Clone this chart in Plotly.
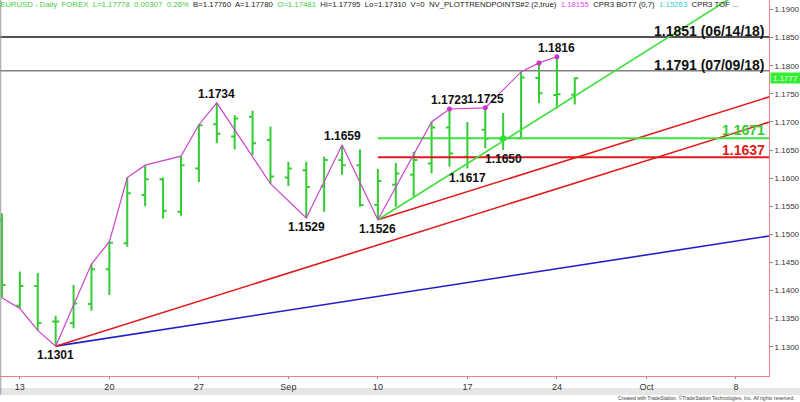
import plotly.graph_objects as go
import pandas as pd

# ---------------- data ----------------
dates = ["2018-08-10", "2018-08-13", "2018-08-14", "2018-08-15", "2018-08-16", "2018-08-17",
         "2018-08-20", "2018-08-21", "2018-08-22", "2018-08-23", "2018-08-24",
         "2018-08-27", "2018-08-28", "2018-08-29", "2018-08-30", "2018-08-31",
         "2018-09-03", "2018-09-04", "2018-09-05", "2018-09-06", "2018-09-07",
         "2018-09-10", "2018-09-11", "2018-09-12", "2018-09-13", "2018-09-14",
         "2018-09-17", "2018-09-18", "2018-09-19", "2018-09-20", "2018-09-21",
         "2018-09-24", "2018-09-25"]
opens = [1.1525, 1.1373, 1.1408, 1.1345, 1.1342, 1.1376,
         1.1438, 1.1484, 1.1570, 1.1598, 1.1540,
         1.1617, 1.1696, 1.1674, 1.1709, 1.1668,
         1.1601, 1.1614, 1.1585, 1.1632, 1.1623,
         1.1552, 1.1588, 1.1606, 1.1626, 1.1690,
         1.1638, 1.1686, 1.1668, 1.1671, 1.1778,
         1.1748, 1.17481]
highs = [1.1537, 1.1434, 1.1431, 1.1355, 1.1410, 1.1447,
         1.1487, 1.1601, 1.1623, 1.1601, 1.1639,
         1.1695, 1.1734, 1.1712, 1.1720, 1.1692,
         1.1629, 1.1629, 1.1638, 1.1659, 1.1651,
         1.1616, 1.1627, 1.1647, 1.1700, 1.1723,
         1.1700, 1.1725, 1.1716, 1.1789, 1.1805,
         1.1816, 1.17795]
lows = [1.1387, 1.1368, 1.1329, 1.1301, 1.1333, 1.1364,
        1.1392, 1.1478, 1.1550, 1.1528, 1.1533,
        1.1593, 1.1662, 1.1651, 1.1641, 1.1590,
        1.1586, 1.1529, 1.1540, 1.1606, 1.1549,
        1.1526, 1.1549, 1.1567, 1.1608, 1.1620,
        1.1617, 1.1653, 1.1650, 1.1669, 1.1733,
        1.1724, 1.17310]
closes = [1.1410, 1.1408, 1.1342, 1.1345, 1.1377, 1.1438,
          1.1485, 1.1573, 1.1598, 1.1542, 1.1623,
          1.1694, 1.1679, 1.1706, 1.1662, 1.1603,
          1.1617, 1.1584, 1.1632, 1.1623, 1.1552,
          1.1595, 1.1608, 1.1632, 1.1690, 1.1644,
          1.1671, 1.1670, 1.1672, 1.1779, 1.1751,
          1.1749, 1.17778]

# swing line (NV_PLOTTRENDPOINTS)
swing_dates = ["2018-08-10", "2018-08-13", "2018-08-14", "2018-08-15", "2018-08-17",
               "2018-08-20", "2018-08-21", "2018-08-22", "2018-08-24", "2018-08-27",
               "2018-08-28", "2018-08-31", "2018-09-04", "2018-09-06", "2018-09-10",
               "2018-09-13", "2018-09-14", "2018-09-18", "2018-09-20", "2018-09-21",
               "2018-09-24"]
swing_prices = [1.1387, 1.1368, 1.1329, 1.1301, 1.1447,
                1.1487, 1.1601, 1.1623, 1.1639, 1.1695,
                1.1734, 1.1590, 1.1529, 1.1659, 1.1526,
                1.1700, 1.1723, 1.1725, 1.1789, 1.1805,
                1.1816]
dot_dates = ["2018-09-14", "2018-09-18", "2018-09-21", "2018-09-24"]
dot_prices = [1.1723, 1.1725, 1.1805, 1.1816]

# pivot labels: date, price, side
pivot_dates = ["2018-08-15", "2018-08-28", "2018-09-04", "2018-09-06", "2018-09-10",
               "2018-09-14", "2018-09-18", "2018-09-17", "2018-09-19", "2018-09-24"]
pivot_prices = [1.1301, 1.1734, 1.1529, 1.1659, 1.1526,
                1.1723, 1.1725, 1.1617, 1.1650, 1.1816]
pivot_side = ["low", "high", "low", "high", "low", "high", "high", "low", "low", "high"]

# trend lines: start date/price -> end date/price
red_low_line = (["2018-08-15", "2018-10-12"], [1.1301, 1.1721])
red_up_line = (["2018-09-10", "2018-10-12"], [1.1526, 1.1766])
blue_line = (["2018-08-15", "2018-10-12"], [1.1301, 1.15076])
green_line = (["2018-09-10", "2018-10-12"], [1.1526, 1.2006])
green_level = (["2018-09-10", "2018-10-12"], [1.1671, 1.1671])
red_level = (["2018-09-10", "2018-10-12"], [1.1637, 1.1637])
green_dot = (["2018-09-19"], [1.1671])

# horizontal reference levels
level_prices = [1.1851, 1.1791]
level_labels = ["1.1851 (06/14/18)", "1.1791 (07/09/18)"]
level_colors = ["#1a1a1a", "#808080"]

# axis ticks
x_tick_dates = ["2018-08-13", "2018-08-20", "2018-08-27", "2018-09-03", "2018-09-10",
                "2018-09-17", "2018-09-24", "2018-10-01", "2018-10-08"]
x_tick_text = ["13", "20", "27", "Sep", "10", "17", "24", "Oct", "8"]
y_ticks = [1.1300, 1.1350, 1.1400, 1.1450, 1.1500, 1.1550, 1.1600,
           1.1650, 1.1700, 1.1750, 1.1800, 1.1850, 1.1900]
last_price = 1.17778
last_price_label = "1.1777"


def noon(ds):
    return [pd.Timestamp(d) + pd.Timedelta(hours=12) for d in ds]


GREEN = "#33cc33"
FONT = "Arial, Liberation Sans, sans-serif"

fig = go.Figure()

fig.add_trace(go.Scatter(x=noon(blue_line[0]), y=blue_line[1], mode="lines",
                         line=dict(color="#1f1fc8", width=1.6), hoverinfo="skip"))
fig.add_trace(go.Scatter(x=noon(red_low_line[0]), y=red_low_line[1], mode="lines",
                         line=dict(color="#e01b1b", width=1.6), hoverinfo="skip"))
fig.add_trace(go.Scatter(x=noon(red_up_line[0]), y=red_up_line[1], mode="lines",
                         line=dict(color="#e01b1b", width=1.6), hoverinfo="skip"))
fig.add_trace(go.Scatter(x=noon(red_level[0]), y=red_level[1], mode="lines",
                         line=dict(color="#e01b1b", width=2), hoverinfo="skip"))
fig.add_trace(go.Scatter(x=noon(green_level[0]), y=green_level[1], mode="lines",
                         line=dict(color="#3fe03f", width=2), hoverinfo="skip"))
fig.add_trace(go.Scatter(x=noon(green_line[0]), y=green_line[1], mode="lines",
                         line=dict(color="#3fe03f", width=1.6), hoverinfo="skip"))

fig.add_trace(go.Ohlc(x=noon(dates), open=opens, high=highs, low=lows, close=closes,
                      increasing=dict(line=dict(color=GREEN, width=2)),
                      decreasing=dict(line=dict(color=GREEN, width=2)),
                      tickwidth=0.2, hoverinfo="skip"))

fig.add_trace(go.Scatter(x=noon(swing_dates), y=swing_prices, mode="lines",
                         line=dict(color="#cc44cc", width=1.2), hoverinfo="skip"))
fig.add_trace(go.Scatter(x=noon(dot_dates), y=dot_prices, mode="markers",
                         marker=dict(color="#cc33cc", size=5), hoverinfo="skip"))
fig.add_trace(go.Scatter(x=noon(green_dot[0]), y=green_dot[1], mode="markers",
                         marker=dict(color="#33dd33", size=6), hoverinfo="skip"))

annotations = []
for d, p, s in zip(pivot_dates, pivot_prices, pivot_side):
    annotations.append(dict(x=noon([d])[0], y=p, text="<b>%.4f</b>" % p, showarrow=False,
                            xanchor="center", yanchor="top" if s == "low" else "bottom",
                            yshift=0,
                            font=dict(family=FONT, size=12, color="#111111")))

for p, t in zip(level_prices, level_labels):
    annotations.append(dict(x=0.997, xref="paper", y=p, text="<b>%s</b>" % t, showarrow=False,
                            xanchor="right", yanchor="bottom", yshift=-4,
                            font=dict(family=FONT, size=14, color="#111111")))
annotations.append(dict(x=0.997, xref="paper", y=green_level[1][0], text="<b>%.4f</b>" % green_level[1][0],
                        showarrow=False, xanchor="right", yanchor="bottom", yshift=-2,
                        font=dict(family=FONT, size=14, color="#33cc33")))
annotations.append(dict(x=0.997, xref="paper", y=red_level[1][0], text="<b>%.4f</b>" % red_level[1][0],
                        showarrow=False, xanchor="right", yanchor="bottom", yshift=-3,
                        font=dict(family=FONT, size=14, color="#e01b1b")))

# current price box
annotations.append(dict(x=1.0, xref="paper", y=last_price, text=last_price_label,
                        showarrow=False, xanchor="left", yanchor="middle", xshift=1,
                        bgcolor="#33ee33", borderpad=0, width=29, height=10,
                        font=dict(family=FONT, size=8, color="#f0fff0")))

sp = "&nbsp; "
header = ('<span style="color:#44cc44">EURUSD - Daily' + sp + 'FOREX' + sp + 'L=1.17778' + sp + '0.00307'
          + sp + '0.26%</span>' + sp + 'B=1.17760' + sp + 'A=1.17780' + sp
          + '<span style="color:#44cc44">O=1.17481</span>' + sp + 'Hi=1.17795' + sp + 'Lo=1.17310'
          + sp + 'V=0' + sp + 'NV_PLOTTRENDPOINTS#2 (2,true)' + sp
          + '<span style="color:#ee44ee">1.18155</span>' + sp + 'CPR3 BOT7 (0,7)' + sp
          + '<span style="color:#33cccc">1.15263</span>' + sp + 'CPR3 TOF ...')
annotations.append(dict(x=0, xref="paper", y=1, yref="paper", text=header, showarrow=False,
                        xanchor="left", yanchor="top", xshift=-2, yshift=2,
                        font=dict(family=FONT, size=7.8, color="#222222")))

annotations.append(dict(x=1.036, xref="paper", y=-0.058, yref="paper",
                        text="Created with TradeStation. \u00a9TradeStation Technologies, Inc. All rights reserved.",
                        showarrow=False, xanchor="right", yanchor="middle",
                        font=dict(family=FONT, size=5, color="#444444")))

shapes = [
    dict(type="line", xref="paper", yref="y", x0=0, x1=1, y0=level_prices[0], y1=level_prices[0],
         line=dict(color=level_colors[0], width=1.5), layer="below"),
    dict(type="line", xref="paper", yref="y", x0=0, x1=1, y0=level_prices[1], y1=level_prices[1],
         line=dict(color=level_colors[1], width=1.5), layer="below"),
    dict(type="rect", xref="paper", yref="paper", x0=0, x1=1.05, y0=-0.0505, y1=-0.032,
         fillcolor="#e6e6e6", line=dict(width=0), layer="below"),
    dict(type="line", xref="paper", yref="paper", x0=0.001, x1=0.001, y0=-0.05, y1=1,
         line=dict(color="#999999", width=1)),
]

fig.update_layout(
    width=800, height=402,
    margin=dict(l=0, r=31, t=0, b=26, pad=0, autoexpand=False),
    paper_bgcolor="white", plot_bgcolor="white",
    showlegend=False,
    annotations=annotations,
    shapes=shapes,
    xaxis=dict(
        type="date",
        rangebreaks=[dict(bounds=["sat", "mon"])],
        range=[pd.Timestamp("2018-08-10 09:22"), pd.Timestamp("2018-10-10 08:24")],
        tickvals=noon(x_tick_dates), ticktext=x_tick_text,
        ticks="outside", ticklen=2, tickcolor="#888888",
        showline=True, linecolor="#ee8080", linewidth=1,
        showgrid=False, zeroline=False, automargin=False,
        rangeslider=dict(visible=False),
        tickfont=dict(family=FONT, size=9, color="#333333"),
        fixedrange=True,
    ),
    yaxis=dict(
        side="right",
        range=[1.12479, 1.19169],
        tickvals=y_ticks, tickformat=".4f",
        ticks="outside", ticklen=3, tickcolor="#888888",
        showline=True, linecolor="#ee8080", linewidth=1,
        showgrid=False, zeroline=False, automargin=False,
        tickfont=dict(family=FONT, size=8, color="#333333"),
        fixedrange=True,
    ),
)

fig.write_html("out.html", config={"displayModeBar": False},
               post_script="document.body.style.margin='0';document.body.style.overflow='hidden';")
